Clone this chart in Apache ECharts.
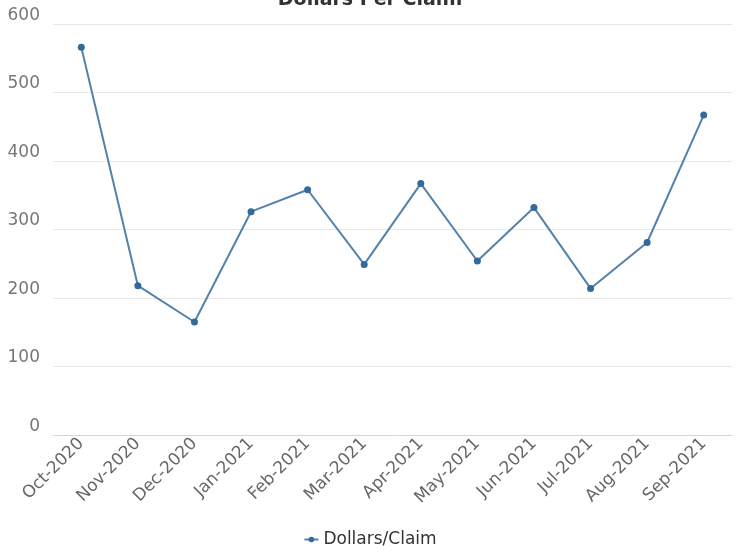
<!DOCTYPE html>
<html>
<head>
<meta charset="utf-8">
<script src="https://cdn.jsdelivr.net/npm/echarts@6/dist/echarts.min.js"></script>
<style>
  html, body { margin: 0; padding: 0; background: #fff; }
  #chart { width: 740px; height: 554px; }
</style>
</head>
<body>
<div id="chart"></div>
<script>
// Monthly dollars per claim, Oct 2020 – Sep 2021
const months = ['Oct-2020', 'Nov-2020', 'Dec-2020', 'Jan-2021', 'Feb-2021', 'Mar-2021',
                'Apr-2021', 'May-2021', 'Jun-2021', 'Jul-2021', 'Aug-2021', 'Sep-2021'];
const dollarsPerClaim = [566, 218, 165, 326, 358, 249, 367, 254, 332, 214, 281, 467];
const seriesName = 'Dollars/Claim';
const chartTitle = 'Dollars Per Claim';

const font = '"DejaVu Sans", sans-serif';
const chart = echarts.init(document.getElementById('chart'), null, { renderer: 'canvas' });

chart.setOption({
  animation: false,
  backgroundColor: '#ffffff',
  title: {
    text: chartTitle,
    left: 'center',
    top: -14,
    textStyle: { fontFamily: font, fontSize: 19, fontWeight: 'bold', color: '#333333' }
  },
  grid: { left: 53, right: 8, top: 24, bottom: 119, containLabel: false },
  legend: {
    bottom: 1,
    left: 'center',
    itemWidth: 14,
    itemHeight: 7,
    itemGap: 10,
    textStyle: { fontFamily: font, fontSize: 17, color: '#333333' },
    data: [seriesName]
  },
  xAxis: {
    type: 'category',
    data: months,
    boundaryGap: true,
    axisLine: { show: true, lineStyle: { color: '#ccd6eb', width: 1 } },
    axisTick: { show: false },
    axisLabel: {
      rotate: 45,
      interval: 0,
      margin: 6,
      fontFamily: font,
      fontSize: 17,
      color: '#666666'
    },
    splitLine: { show: false }
  },
  yAxis: {
    type: 'value',
    min: 0,
    max: 600,
    interval: 100,
    axisLine: { show: false },
    axisTick: { show: false },
    axisLabel: {
      margin: 13,
      verticalAlign: 'bottom',
      fontFamily: font,
      fontSize: 17,
      color: '#777777'
    },
    splitLine: { lineStyle: { color: '#e8e8e8', width: 1 } }
  },
  series: [{
    name: seriesName,
    type: 'line',
    data: dollarsPerClaim,
    symbol: 'circle',
    symbolSize: 7,
    itemStyle: { color: '#336a9a' },
    lineStyle: { color: '#5382ab', width: 2 }
  }]
});
</script>
</body>
</html>
